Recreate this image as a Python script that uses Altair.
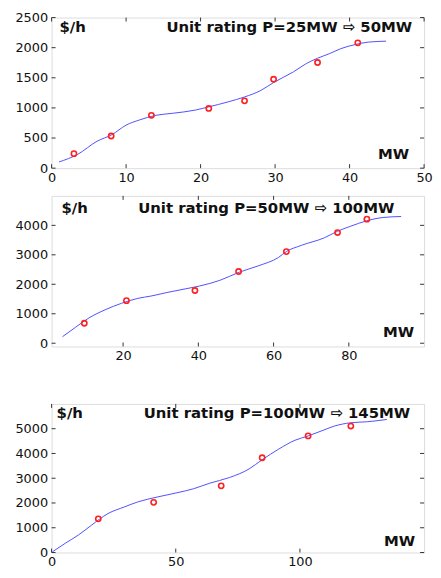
import altair as alt
import pandas as pd

# ---------------- data ----------------
# Panel 1: Unit rating 25MW -> 50MW
p1_line_x = [1.0, 3.5, 6.1, 8.1, 10.0, 11.8, 14.0, 16.2, 19.3, 21.1, 23.7, 25.9, 28.1, 29.8, 32.5, 34.2, 35.7, 37.3, 38.8, 40.8, 42.5, 44.9]
p1_line_y = [103, 229, 447, 556, 714, 800, 877, 910, 964, 1018, 1100, 1182, 1291, 1422, 1601, 1737, 1825, 1901, 1983, 2053, 2092, 2108]
p1_pts_x = [3.0, 8.0, 13.4, 21.1, 25.9, 29.8, 35.7, 41.1]
p1_pts_y = [240, 534, 877, 991, 1117, 1476, 1754, 2081]
p1_xticks = [0, 10, 20, 30, 40, 50]
p1_yticks = [0, 500, 1000, 1500, 2000, 2500]

# Panel 2: Unit rating 50MW -> 100MW
p2_line_x = [3.9, 7.4, 10.9, 15.2, 19.6, 23.9, 27.4, 31.7, 37.0, 40.4, 45.7, 50.9, 56.1, 61.3, 63.4, 67.4, 73.5, 77.0, 80.4, 84.8, 89.1, 93.9]
p2_line_y = [222, 544, 856, 1133, 1356, 1522, 1600, 1722, 1856, 1944, 2133, 2411, 2633, 2911, 3111, 3322, 3578, 3800, 3967, 4156, 4267, 4300]
p2_pts_x = [9.7, 20.9, 39.1, 50.7, 63.4, 77.0, 84.8]
p2_pts_y = [678, 1444, 1789, 2433, 3111, 3756, 4211]
p2_xticks = [20, 40, 60, 80]
p2_yticks = [0, 1000, 2000, 3000, 4000]

# Panel 3: Unit rating 100MW -> 145MW
p3_line_x = [0.3, 5.5, 10.8, 16.1, 22.7, 29.3, 34.6, 42.5, 50.5, 57.1, 63.7, 71.6, 79.5, 84.8, 91.4, 98.0, 103.3, 108.6, 113.9, 120.5, 127.1, 135.0]
p3_line_y = [27, 373, 707, 1107, 1573, 1840, 2040, 2240, 2413, 2573, 2800, 3027, 3373, 3747, 4173, 4533, 4707, 4907, 5107, 5240, 5280, 5373]
p3_pts_x = [18.8, 41.1, 68.3, 84.8, 103.3, 120.5]
p3_pts_y = [1360, 2027, 2693, 3827, 4707, 5107]
p3_xticks = [0, 50, 100]
p3_yticks = [0, 1000, 2000, 3000, 4000, 5000]

titles = ["Unit rating P=25MW \u21e8 50MW",
          "Unit rating P=50MW \u21e8 100MW",
          "Unit rating P=100MW \u21e8 145MW"]
unit_label = "$/h"
x_label = "MW"

FONT = "DejaVu Sans"
W = 376


def panel(lx, ly, px, py, xt, yt, xdom, ydom, title, H, pos, ptitle=None):
    line_df = pd.DataFrame({"x": lx, "y": ly})
    pts_df = pd.DataFrame({"x": px, "y": py})
    xs = alt.Scale(domain=xdom, nice=False, zero=False)
    ys = alt.Scale(domain=ydom, nice=False, zero=False)
    xax = alt.Axis(values=xt, ticks=False, grid=False, domain=False, title=None, format="d",
                   labelFont=FONT, labelFontSize=13, labelColor="#111",
                   labelPadding=3, labelFlush=False, labelOverlap=False)
    yax = alt.Axis(values=yt, ticks=False, grid=False, domain=False, title=None, format="d",
                   labelFont=FONT, labelFontSize=13, labelColor="#111",
                   labelPadding=4, labelOverlap=False)
    X = lambda f: alt.X(f, scale=xs, axis=xax)
    Y = lambda f: alt.Y(f, scale=ys, axis=yax)
    line = alt.Chart(line_df).mark_line(color="#5050ff", strokeWidth=1, interpolate="monotone").encode(
        x=X("x:Q"), y=Y("y:Q"))
    pts = alt.Chart(pts_df).mark_point(shape="circle", filled=False, color="#ff2020",
                                       size=28, strokeWidth=1.6, opacity=1).encode(
        x=X("x:Q"), y=Y("y:Q"))
    xt_df = pd.DataFrame({"x": xt})
    yt_df = pd.DataFrame({"y": yt})
    tcol = "#333"
    tb = alt.Chart(xt_df).mark_rule(color=tcol).encode(
        x=X("x:Q"), y=alt.value(H), y2=alt.value(H - 4))
    tt = alt.Chart(xt_df).mark_rule(color=tcol).encode(
        x=X("x:Q"), y=alt.value(0), y2=alt.value(4))
    tl = alt.Chart(yt_df).mark_rule(color=tcol).encode(
        y=Y("y:Q"), x=alt.value(0), x2=alt.value(4))
    tr = alt.Chart(yt_df).mark_rule(color=tcol).encode(
        y=Y("y:Q"), x=alt.value(W), x2=alt.value(W - 4))
    (ux, uy, tx, ty, mx, my) = pos
    txt_unit = alt.Chart(pd.DataFrame({"t": [unit_label]})).mark_text(
        font=FONT, fontWeight="bold", fontSize=15, align="left", baseline="middle", color="#111"
    ).encode(text="t:N", x=alt.value(ux), y=alt.value(uy))
    txt_title = alt.Chart(pd.DataFrame({"t": [title]})).mark_text(
        font=FONT, fontWeight="bold", fontSize=15, align="right", baseline="middle", color="#111"
    ).encode(text="t:N", x=alt.value(tx), y=alt.value(ty))
    txt_mw = alt.Chart(pd.DataFrame({"t": [x_label]})).mark_text(
        font=FONT, fontWeight="bold", fontSize=15, align="right", baseline="middle", color="#111"
    ).encode(text="t:N", x=alt.value(mx), y=alt.value(my))
    ch = alt.layer(line, pts, tb, tt, tl, tr, txt_unit, txt_title, txt_mw)
    if ptitle is not None:
        return ch.properties(width=W, height=H, title=ptitle)
    return ch.properties(width=W, height=H)


c1 = panel(p1_line_x, p1_line_y, p1_pts_x, p1_pts_y, p1_xticks, p1_yticks,
           [0, 50], [0, 2500], titles[0], 152, (8, 10, W - 12, 10, W - 15, 152 - 14))
c2 = panel(p2_line_x, p2_line_y, p2_pts_x, p2_pts_y, p2_xticks, p2_yticks,
           [1, 100], [-110, 5000], titles[1], 152, (10, 12, W - 30, 12, W - 10, 152 - 15))
c3 = panel(p3_line_x, p3_line_y, p3_pts_x, p3_pts_y, p3_xticks, p3_yticks,
           [0, 150], [0, 6000], titles[2], 150, (5, 9, W - 14, 9, W - 9, 150 - 12),
           ptitle=alt.TitleParams(text=" ", fontSize=18, offset=12))

chart = alt.vconcat(c1, c2, c3, spacing=10).properties(
    padding={"left": 6, "top": 0, "right": 0, "bottom": 0}
).configure_view(stroke="#444", strokeWidth=1).configure(background="white")

chart.save("out.html", embed_options={"renderer": "svg", "actions": False})
